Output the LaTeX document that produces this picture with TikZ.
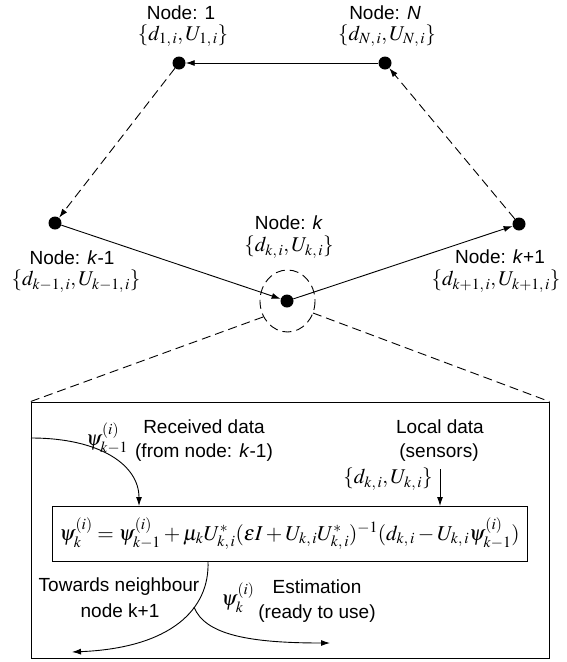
\documentclass[tikz,border=0pt]{standalone}
\usepackage{mathptmx}
\usepackage[no-math]{fontspec}
\setmainfont{Liberation Sans}
\usetikzlibrary{arrows.meta}
\tikzset{
  dotnode/.style={circle, fill=black, inner sep=0pt, minimum size=13pt},
  txt/.style={inner sep=0pt, font=\fontsize{19}{22}\selectfont},
  mth/.style={inner sep=0pt, font=\fontsize{21}{25}\selectfont},
  arr/.style={line width=0.9pt, -{Latex[length=9pt,width=6pt]}},
  dsh/.style={dash pattern=on 9pt off 5pt},
  frame/.style={draw, line width=0.9pt, inner sep=0pt}
}
\begin{document}
\begin{tikzpicture}[x=1pt,y=-1pt]
\useasboundingbox (0,0) rectangle (567,662);
% network nodes
\node[dotnode] (n1) at (179,63) {};
\node[dotnode] (nN) at (385,63) {};
\node[dotnode] (nkm) at (55,223) {};
\node[dotnode] (nkp) at (519,224) {};
\node[dotnode] (nk) at (287,301) {};
% labels
\node[txt] (l1a) at (181,13) {Node: 1};
\node[mth] (l1b) at (183,36) {$\{d_{1,\,i},U_{1,\,i}\}$};
\node[txt] (lNa) at (385,13) {Node: \textit{N}};
\node[mth] (lNb) at (387,36) {$\{d_{N,\,i},U_{N,\,i}\}$};
\node[txt] (lka) at (289,223) {Node: \textit{k}};
\node[mth] (lkb) at (289,247) {$\{d_{k,\,i},U_{k,\,i}\}$};
\node[txt] (lkma) at (72,258) {Node: \textit{k}-1};
\node[mth] (lkmb) at (76,281) {$\{d_{k-1,\,i},U_{k-1,\,i}\}$};
\node[txt] (lkpa) at (500,257) {Node: \textit{k}+1};
\node[mth] (lkpb) at (496,281) {$\{d_{k+1,\,i},U_{k+1,\,i}\}$};
% links
\draw[arr] (nN) -- (n1);
\draw[arr,dsh] (n1) -- (nkm);
\draw[arr] (nkm) -- (nk);
\draw[arr] (nk) -- (nkp);
\draw[arr,dsh] (nkp) -- (nN);
% zoom ellipse
\draw[line width=0.9pt,dsh] (287.5,301) ellipse [x radius=27.5, y radius=31];
\coordinate (eL) at (263,317);
\coordinate (eR) at (313,313);
% zoom box
\node[frame, minimum width=518pt, minimum height=256pt] (bx) at (290,530) {};
\draw[line width=0.9pt,dsh] (eL) -- (bx.north west);
\draw[line width=0.9pt,dsh] (eR) -- (bx.north east);
% formula box
\node[frame, minimum width=475pt, minimum height=55pt, font=\fontsize{21.2}{25}\selectfont] (fb) at (289.5,533.5)
  {$\psi_k^{(i)} = \psi_{k-1}^{(i)} + \mu_k U_{k,\,i}^{*}(\varepsilon I + U_{k,\,i}U_{k,\,i}^{*})^{-1}(d_{k,\,i} - U_{k,\,i}\psi_{k-1}^{(i)})$};
% received data
\node[txt] (rd1) at (204,427) {Received data};
\node[txt] (rd2) at (204,453) {(from node: \textit{k}-1)};
\node[mth] (psim) at (107,438) {$\psi_{k-1}^{(i)}$};
\coordinate (rs) at (31,438);
\coordinate (rt) at (139,506);
\draw[arr] (rs) .. controls (100,438) and (139,465) .. (rt);
% local data
\node[txt] (ld1) at (440,427) {Local data};
\node[txt] (ld2) at (439,453) {(sensors)};
\node[mth] (ldm) at (388,479) {$\{d_{k,\,i},U_{k,\,i}\}$};
\coordinate (ls) at (440,469);
\coordinate (lt) at (440,506);
\draw[arr] (ls) -- (lt);
% outputs
\coordinate (bs) at (208,561);
\coordinate (bm) at (194,607);
\coordinate (bl) at (72,652);
\coordinate (br) at (330,643);
\draw[arr] (bs) .. controls (210,610) and (170,648) .. (bl);
\draw[arr] (bm) .. controls (205,635) and (250,643) .. (br);
\node[txt] (tw1) at (119,587) {Towards neighbour};
\node[txt] (tw2) at (120,611) {node k+1};
\node[mth] (psik) at (238,598) {$\psi_k^{(i)}$};
\node[txt] (es1) at (317,587) {Estimation};
\node[txt] (es2) at (317,614) {(ready to use)};
\end{tikzpicture}
\end{document}
